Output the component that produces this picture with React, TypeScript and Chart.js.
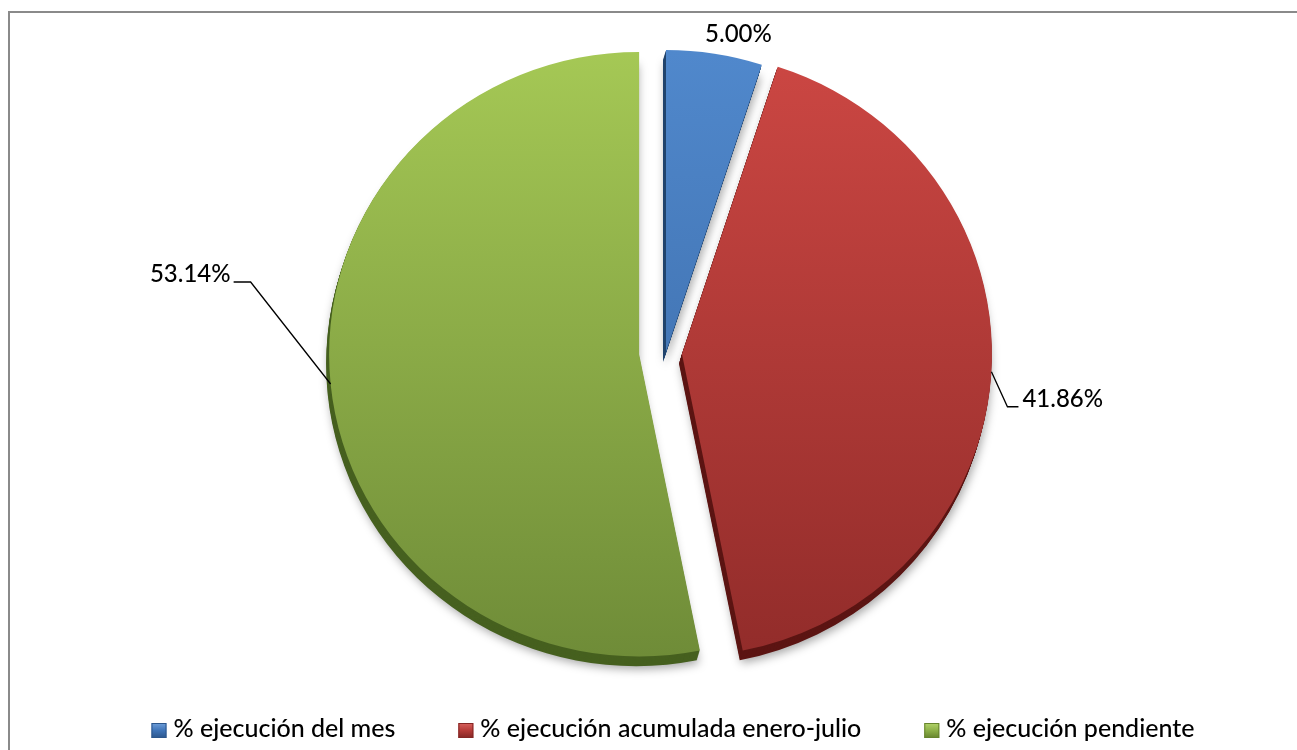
import React, { useEffect, useRef } from 'react';
import { Chart, registerables } from 'chart.js';

Chart.register(...registerables);

// ---- data ----
const categories = ['% ejecución del mes', '% ejecución acumulada enero-julio', '% ejecución pendiente'];
const values = [5.0, 41.86, 53.14];

// ---- styles ----
const TOP_COLORS = ['#5088cc', '#cc4743', '#a5c855'];
const BOTTOM_COLORS = ['#3765a0', '#922c2a', '#6f8c38'];
const SIDE_COLORS = ['#22446e', '#5c1513', '#46601f'];
const LEGEND_COLORS = ['#3f74b8', '#b53b38', '#8db048'];
const LEGEND_LIGHT = ['#6f9fda', '#d8625e', '#b3d46a'];
const LEGEND_DARK = ['#2c568c', '#842624', '#66842d'];
const EXPLODE = [19, 19, 24];
const EXPLODE_V = 0.1;
const V_SQUASH = 0.975;
const DEPTH = { x: -3, y: 10, steps: 10 };
const FONT_FAMILY = 'Lato';
const FONT_WEIGHT = '500';
const LABEL_SIZE = 24;
const LEGEND_SIZE = 25;
const LEGEND = { centerX: 673, baseline: 737, box: 15, boxGap: 7, itemGap: 63 };
const LABEL_PLACE = [
  { dx: 24, dy: -12, align: 'center', leader: false },
  { dx: 31, dy: 35, align: 'left', leader: true },
  { dx: -100, dy: -102, align: 'right', leader: true },
];

type Geo = { cx: number; cy: number; r: number; s: number; e: number; mid: number; baseY: number };

function geom(el: any, i: number): Geo {
  const p = el.getProps(['x', 'y', 'startAngle', 'endAngle', 'outerRadius'], true);
  const mid = (p.startAngle + p.endAngle) / 2;
  const d = EXPLODE[i] || 0;
  return {
    cx: p.x + d * Math.cos(mid),
    cy: p.y + d * Math.sin(mid) * EXPLODE_V,
    r: p.outerRadius,
    s: p.startAngle,
    e: p.endAngle,
    mid,
    baseY: p.y,
  };
}

function slicePath(ctx: CanvasRenderingContext2D, g: Geo, ox: number, oy: number) {
  ctx.beginPath();
  ctx.moveTo(g.cx + ox, g.cy + oy);
  ctx.arc(g.cx + ox, g.cy + oy, g.r, g.s, g.e);
  ctx.closePath();
}

const pie3d = {
  id: 'pie3d',
  beforeDatasetDraw(chart: any, args: any) {
    const meta = chart.getDatasetMeta(args.index);
    const ctx: CanvasRenderingContext2D = chart.ctx;
    const geos: Geo[] = meta.data.map((el: any, i: number) => geom(el, i));
    if (!geos.length) return false;
    const baseY = geos[0].baseY;
    const r = geos[0].r;
    ctx.save();
    ctx.translate(0, baseY);
    ctx.scale(1, V_SQUASH);
    ctx.translate(0, -baseY);
    geos.forEach((g, i) => {
      for (let s = DEPTH.steps; s >= 1; s--) {
        const ox = (DEPTH.x * s) / DEPTH.steps;
        const oy = (DEPTH.y * s) / DEPTH.steps;
        ctx.save();
        if (s === DEPTH.steps) {
          ctx.shadowColor = 'rgba(0,0,0,0.35)';
          ctx.shadowBlur = 10;
          ctx.shadowOffsetX = 2;
          ctx.shadowOffsetY = 3;
        }
        slicePath(ctx, g, ox, oy);
        ctx.fillStyle = SIDE_COLORS[i];
        ctx.fill();
        ctx.restore();
      }
    });
    geos.forEach((g, i) => {
      const grad = ctx.createLinearGradient(0, baseY - r, 0, baseY + r);
      grad.addColorStop(0, TOP_COLORS[i]);
      grad.addColorStop(1, BOTTOM_COLORS[i]);
      slicePath(ctx, g, 0, 0);
      ctx.fillStyle = grad;
      ctx.fill();
    });
    ctx.restore();
    return false;
  },
  afterDatasetsDraw(chart: any) {
    const meta = chart.getDatasetMeta(0);
    const ctx: CanvasRenderingContext2D = chart.ctx;
    const data = chart.data.datasets[0].data as number[];
    ctx.save();
    ctx.font = `${FONT_WEIGHT} ${LABEL_SIZE}px ${FONT_FAMILY}`;
    ctx.fillStyle = '#000';
    ctx.strokeStyle = '#000';
    ctx.lineWidth = 1.3;
    ctx.textBaseline = 'alphabetic';
    meta.data.forEach((el: any, i: number) => {
      const g = geom(el, i);
      const ax = g.cx + g.r * Math.cos(g.mid);
      const ayRaw = g.cy + g.r * Math.sin(g.mid);
      const ay = g.baseY + (ayRaw - g.baseY) * V_SQUASH;
      const pl = LABEL_PLACE[i];
      const tx = ax + pl.dx;
      const ty = ay + pl.dy;
      const text = data[i].toFixed(2) + '%';
      ctx.textAlign = pl.align as CanvasTextAlign;
      ctx.fillText(text, tx, ty);
      if (pl.leader) {
        ctx.beginPath();
        ctx.moveTo(ax, ay);
        if (pl.align === 'left') {
          ctx.lineTo(tx - 15, ty);
          ctx.lineTo(tx - 4, ty);
        } else {
          ctx.lineTo(tx + 20, ty);
          ctx.lineTo(tx + 3, ty);
        }
        ctx.stroke();
      }
    });

    // legend row built from the library's legend items
    const gen = (Chart as any).overrides.pie.plugins.legend.labels.generateLabels;
    const items: any[] = (chart.legend && chart.legend.legendItems && chart.legend.legendItems.length)
      ? chart.legend.legendItems
      : gen(chart);
    ctx.font = `${FONT_WEIGHT} ${LEGEND_SIZE}px ${FONT_FAMILY}`;
    ctx.textAlign = 'left';
    const widths = items.map((it) => LEGEND.box + LEGEND.boxGap + ctx.measureText(it.text).width);
    const total = widths.reduce((a, b) => a + b, 0) + LEGEND.itemGap * (items.length - 1);
    let x = LEGEND.centerX - total / 2;
    const boxTop = LEGEND.baseline - 14;
    items.forEach((it, i) => {
      const idx = it.index ?? i;
      const grad = ctx.createLinearGradient(0, boxTop, 0, boxTop + LEGEND.box);
      grad.addColorStop(0, LEGEND_LIGHT[idx]);
      grad.addColorStop(0.5, LEGEND_COLORS[idx]);
      grad.addColorStop(1, LEGEND_DARK[idx]);
      ctx.fillStyle = grad;
      ctx.fillRect(x, boxTop, LEGEND.box, LEGEND.box);
      ctx.strokeStyle = LEGEND_DARK[idx];
      ctx.lineWidth = 1;
      ctx.strokeRect(x + 0.5, boxTop + 0.5, LEGEND.box - 1, LEGEND.box - 1);
      ctx.fillStyle = '#000';
      ctx.fillText(it.text, x + LEGEND.box + LEGEND.boxGap, LEGEND.baseline);
      x += widths[i] + LEGEND.itemGap;
    });
    ctx.restore();
  },
};

export default function App() {
  const ref = useRef<HTMLCanvasElement | null>(null);
  useEffect(() => {
    if (!ref.current) return;
    const chart = new Chart(ref.current, {
      type: 'pie',
      data: {
        labels: categories,
        datasets: [
          {
            data: values,
            backgroundColor: LEGEND_COLORS,
            borderWidth: 0,
            hoverBorderWidth: 0,
            offset: 0,
            hoverOffset: 0,
          },
        ],
      },
      options: {
        responsive: false,
        animation: false,
        devicePixelRatio: 1,
        events: [],
        layout: { padding: { top: 44, bottom: 86, left: 29, right: 0 } },
        plugins: {
          tooltip: { enabled: false },
          legend: { display: false },
        },
      },
      plugins: [pie3d],
    } as any);
    return () => chart.destroy();
  }, []);
  return (
    <>
      <div
        style={{
          position: 'absolute',
          left: 8,
          top: 11,
          width: 1289,
          height: 739,
          boxSizing: 'border-box',
          borderTop: '2px solid #8a8a8a',
          borderLeft: '2px solid #8a8a8a',
        }}
      />
      <canvas
        ref={ref}
        width={1297}
        height={750}
        style={{ position: 'absolute', left: 0, top: 0, width: 1297, height: 750 }}
      />
    </>
  );
}
